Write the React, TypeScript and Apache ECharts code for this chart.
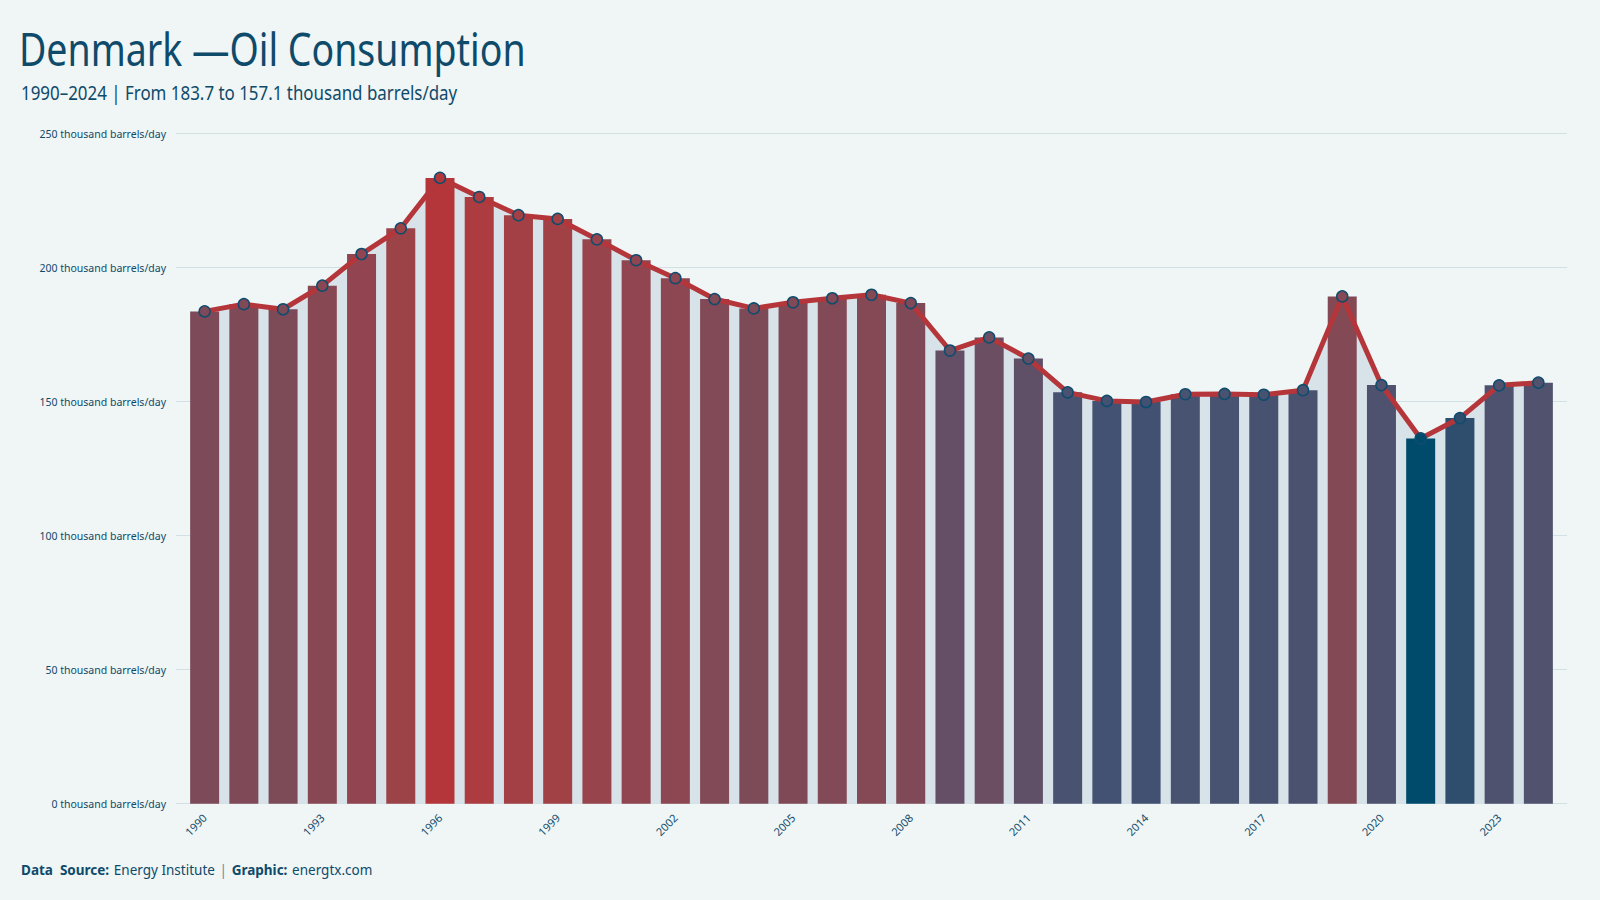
import React, { useEffect, useRef } from "react";
import * as echarts from "echarts";

// Denmark oil consumption, thousand barrels per day
const years = [
  1990, 1991, 1992, 1993, 1994, 1995, 1996, 1997, 1998, 1999,
  2000, 2001, 2002, 2003, 2004, 2005, 2006, 2007, 2008, 2009,
  2010, 2011, 2012, 2013, 2014, 2015, 2016, 2017, 2018, 2019,
  2020, 2021, 2022, 2023, 2024,
];
const consumption = [
  183.7, 186.4, 184.5, 193.3, 205.1, 214.7, 233.5, 226.4, 219.6, 218.2,
  210.6, 202.8, 196.1, 188.3, 184.8, 187.1, 188.6, 189.9, 186.8, 169.1,
  174.0, 166.1, 153.5, 150.3, 149.9, 152.8, 152.9, 152.6, 154.3, 189.3,
  156.2, 136.3, 143.9, 156.1, 157.1,
];
const labelYears = [1990, 1993, 1996, 1999, 2002, 2005, 2008, 2011, 2014, 2017, 2020, 2023];

// Fill ramp: value stops and their colours (blue for low, red for high)
const rampValues = [136.3, 143.9, 150.0, 155.0, 166.0, 174.0, 184.0, 196.0, 205.0, 215.0, 226.0, 233.5];
const rampColors = [
  "#004b6b", "#2f4e6e", "#425172", "#4c5270", "#5f5068", "#6c4e63",
  "#7c4a58", "#8c4752", "#924550", "#9c4348", "#ad3c40", "#b5363a",
];

const INK = "#0e4a6a";
const LINE_RED = "#b5363a";
const FONT = "'Noto Sans', 'Open Sans', sans-serif";

const hexRgb = (h: string) => [1, 3, 5].map((i) => parseInt(h.slice(i, i + 2), 16));

function colorFor(v: number) {
  if (v <= rampValues[0]) return rampColors[0];
  const n = rampValues.length;
  if (v >= rampValues[n - 1]) return rampColors[n - 1];
  let i = 0;
  while (v > rampValues[i + 1]) i++;
  const t = (v - rampValues[i]) / (rampValues[i + 1] - rampValues[i]);
  const a = hexRgb(rampColors[i]);
  const b = hexRgb(rampColors[i + 1]);
  const c = a.map((x, k) => Math.round(x + (b[k] - x) * t));
  return `rgb(${c[0]},${c[1]},${c[2]})`;
}

const points = years.map((y, i) => [y, consumption[i]]);

export default function App() {
  const ref = useRef<HTMLDivElement>(null);

  useEffect(() => {
    if (!ref.current) return;
    const chart = echarts.init(ref.current, null, { renderer: "svg" });
    const first = consumption[0].toFixed(1);
    const last = consumption[consumption.length - 1].toFixed(1);

    chart.setOption({
      animation: false,
      backgroundColor: "#f0f5f5",
      textStyle: { fontFamily: FONT },
      graphic: [
        {
          type: "text",
          x: 19,
          y: 25,
          scaleX: 0.815,
          style: {
            text: "Denmark —Oil Consumption",
            fontFamily: FONT,
            fontSize: 46,
            fill: INK,
            verticalAlign: "top",
          },
        },
        {
          type: "text",
          x: 21,
          y: 82,
          scaleX: 0.846,
          style: {
            text: `${years[0]}–${years[years.length - 1]} | From ${first} to ${last} thousand barrels/day`,
            fontFamily: FONT,
            fontSize: 20,
            fill: INK,
            verticalAlign: "top",
          },
        },
      ],
      title: [
        {
          text: "{b|Data  Source:} {n|Energy Institute} {s||} {b|Graphic:} {n|energtx.com}",
          left: 21,
          top: 861,
          padding: 0,
          textStyle: {
            fontWeight: "normal",
            rich: {
              b: { fontFamily: FONT, fontSize: 13.5, fontWeight: "bold", color: INK },
              n: { fontFamily: FONT, fontSize: 13.5, fontWeight: "normal", color: INK },
              s: { fontFamily: FONT, fontSize: 13.5, fontWeight: "normal", color: "#6a8ea2" },
            },
          },
        },
      ],
      grid: { left: 176, right: 33, top: 133.7, bottom: 96.3 },
      xAxis: {
        type: "value",
        min: 1989.27,
        max: 2024.73,
        splitLine: { show: false },
        axisLine: { show: false },
        axisTick: { show: false },
        axisLabel: {
          customValues: labelYears,
          formatter: (v: number) => String(Math.round(v)),
          rotate: 45,
          margin: 12,
          fontSize: 11,
          color: INK,
          fontFamily: FONT,
        },
      },
      yAxis: {
        type: "value",
        min: 0,
        max: 250,
        interval: 50,
        axisLine: { show: false },
        axisTick: { show: false },
        axisLabel: {
          formatter: (v: number) => `${v} thousand barrels/day`,
          fontSize: 10.5,
          color: INK,
          margin: 10,
          fontFamily: FONT,
        },
        splitLine: { lineStyle: { color: "#d2dfe3", width: 1 } },
      },
      series: [
        {
          name: "area",
          type: "line",
          data: points,
          symbol: "none",
          lineStyle: { width: 0, opacity: 0 },
          areaStyle: { color: "#d7e3e8", opacity: 1 },
          z: 1,
          silent: true,
        },
        {
          name: "bars",
          type: "bar",
          data: points,
          barWidth: 29,
          itemStyle: { color: (p: any) => colorFor(p.value[1]) },
          z: 2,
        },
        {
          name: "line",
          type: "line",
          data: points,
          symbol: "circle",
          symbolSize: 11,
          lineStyle: { color: LINE_RED, width: 5 },
          itemStyle: {
            color: (p: any) => colorFor(p.value[1]),
            borderColor: "#0f4c6e",
            borderWidth: 1.5,
          },
          z: 3,
        },
      ],
    });

    return () => chart.dispose();
  }, []);

  return (
    <div
      ref={ref}
      style={{ position: "fixed", left: 0, top: 0, width: 1600, height: 900 }}
    />
  );
}
